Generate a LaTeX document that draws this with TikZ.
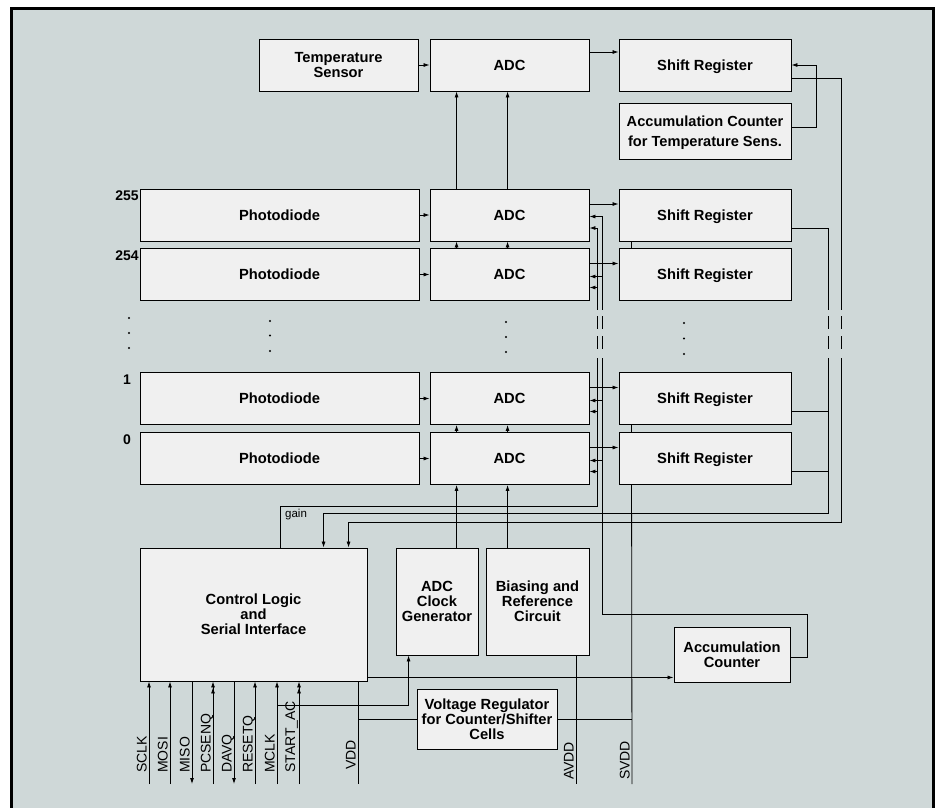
\documentclass[tikz,border=0pt]{standalone}
\usepackage{fontspec}
\setmainfont{Liberation Sans}
\usetikzlibrary{arrows.meta,calc}
\definecolor{bgc}{HTML}{CFD8D8}
\definecolor{boxc}{HTML}{F0F0F0}
\begin{document}
\begin{tikzpicture}[x=1pt,y=-1pt,
 box/.style={draw, line width=0.9pt, fill=boxc, inner sep=1pt, align=center, text depth=0pt, font=\fontsize{14.7}{15}\selectfont\bfseries},
 wire/.style={line width=0.8pt},
 arr/.style={wire, -{Latex[length=6pt,width=4pt]}},
 arrtwo/.style={wire, -{Latex[length=6pt,width=4pt]Latex[length=6pt,width=4pt]}},
 pinlbl/.style={rotate=90, anchor=base west, inner sep=0pt, font=\fontsize{14}{14}\selectfont},
 rownum/.style={anchor=base, inner sep=0pt, font=\fontsize{14}{14}\selectfont\bfseries}
]
\useasboundingbox (0,0) rectangle (937,807);
\clip (0,0) rectangle (937,807);
\fill[white] (0,0) rectangle (937,807);
\draw[line width=3pt, fill=bgc] (11,8) rectangle (933,830);

% top row
\node[box, minimum width=159, minimum height=52] (tsens) at (338.5,65) {Temperature\\Sensor};
\node[box, minimum width=159, minimum height=52] (adcT) at (509.5,65) {ADC};
\node[box, minimum width=172, minimum height=52] (srT) at (705,65) {Shift Register};
\node[box, minimum width=172, minimum height=56, font=\fontsize{14.6}{20}\selectfont\bfseries] (act) at (705,131) {Accumulation Counter\\for Temperature Sens.};

% pixel rows
\foreach \n/\yc in {255/215, 254/274.5, 1/398.5, 0/458.5} {
  \node[box, minimum width=279, minimum height=52] (pd\n) at (279.5,\yc) {Photodiode};
  \node[box, minimum width=159, minimum height=52] (adc\n) at (509.5,\yc) {ADC};
  \node[box, minimum width=172, minimum height=52] (sr\n) at (705,\yc) {Shift Register};
  \node[rownum] (num\n) at (127,\yc-14.5) {\n};
  \draw[arr] (pd\n.east) -- (adc\n.west);
  \draw[arr] ($(adc\n.east)+(0,-11)$) -- ($(sr\n.west)+(0,-11)$);
}

% bottom blocks
\node[box, minimum width=227, minimum height=133] (cl) at (253.5,614.5) {Control Logic\\and\\Serial Interface};
\node[box, minimum width=82, minimum height=107] (cg) at (437,601.5) {ADC\\Clock\\Generator};
\node[box, minimum width=103, minimum height=107] (br) at (537.5,601.5) {Biasing and\\Reference\\Circuit};
\node[box, minimum width=140, minimum height=60] (vr) at (487,719) {Voltage Regulator\\for Counter/Shifter\\Cells};
\node[box, minimum width=116, minimum height=55] (ac) at (732,654.5) {Accumulation\\Counter};

% top connections
\draw[arr] (tsens.east) -- (adcT.west);
\draw[arr] ($(adcT.east)+(0,-13)$) -- ($(srT.west)+(0,-13)$);
\draw[arr] ($(act.east)+(0,-4)$) -- ++(25,0) |- (srT.east);

% ADC chain
\foreach \dx in {27,78} {
  \draw[arr] ($(adc255.north west)+(\dx,0)$) -- ($(adcT.south west)+(\dx,0)$);
  \draw[arr] ($(adc254.north west)+(\dx,0)$) -- ($(adc255.south west)+(\dx,0)$);
  \draw[arr] ($(adc0.north west)+(\dx,0)$) -- ($(adc1.south west)+(\dx,0)$);
}
\draw[arr] ($(cg.north west)+(61,0)$) -- ($(adc0.south west)+(27,0)$);
\draw[arr] ($(br.north west)+(22,0)$) -- ($(adc0.south west)+(78,0)$);

% supply pins
\coordinate (svdd) at (632,784);
\coordinate (vdd) at (358,784);
\coordinate (avdd) at (576,784);
\draw[wire] ($(sr255.south west)+(13,0)$) -- ($(sr254.north west)+(13,0)$);
\draw[wire] ($(sr1.south west)+(13,0)$) -- ($(sr0.north west)+(13,0)$);
\draw[wire] ($(sr0.south west)+(13,0)$) -- (svdd);
\draw[wire] (cl.south -| vdd) -- (vdd);
\draw[wire] (br.south -| avdd) -- (avdd);
\draw[wire] (vr.east) -- (vr.east -| svdd);
\draw[wire] (vr.west) -- (vr.west -| vdd);

% shift register outputs to control logic
\draw[arr] ($(sr255.east)+(0,13)$) -- ++(37,0) |- ($(cl.north west)+(184,-34)$) -- ($(cl.north west)+(184,0)$);
\draw[wire] ($(sr1.east)+(0,13)$) -- ++(37,0);
\draw[wire] ($(sr0.east)+(0,13)$) -- ++(37,0);
\draw[arr] ($(srT.east)+(0,13)$) -- ++(50,0) |- ($(cl.north west)+(209,-25)$) -- ($(cl.north west)+(209,0)$);

% gain
\coordinate (g) at (597,506);
\draw[arr] ($(cl.north west)+(141,0)$) |- (g) |- ($(adc255.east)+(0,13)$);
\foreach \n in {254,1,0} \draw[arr] ($(adc\n.east)+(8,13)$) -- ($(adc\n.east)+(0,13)$);
\node[anchor=base west, inner sep=0pt, font=\fontsize{11.5}{11.5}\selectfont] (gainlbl) at (285,517) {gain};

% accumulation counter feedback
\coordinate (f) at (602,614);
\draw[arr] ($(ac.east)+(0,2.5)$) -- ++(17,0) |- (f) |- ($(adc255.east)+(0,1.5)$);
\foreach \n in {254,1,0} \draw[arr] ($(adc\n.east)+(13,2)$) -- ($(adc\n.east)+(0,2)$);

% control logic to accumulation counter
\draw[arr] ($(cl.south east)+(0,-4)$) -- ($(ac.south west)+(0,-5)$);

% breaks
\fill[bgc] (593,310) rectangle (606,358);
\fill[bgc] (824,310) rectangle (845,358);
\foreach \x in {597,602,828,841} {
  \draw[wire] (\x,316) -- (\x,329);
  \draw[wire] (\x,336) -- (\x,349);
}

% dots
\foreach \x/\y in {129/318,129/333,129/348,270/321,270/335.5,270/351,506/322,506/337,506/352,684/323,684/338.5,684/354}
  \fill (\x,\y) circle (1.2);

% pins
\foreach \nm/\x/\lab in {sclk/149/SCLK, mosi/170/MOSI, miso/192/MISO, pcsenq/213/PCSENQ, davq/234/DAVQ, resetq/255/RESETQ, mclk/277/MCLK} {
  \coordinate (p\nm) at (\x,784);
  \node[pinlbl] (l\nm) at (\x-2.5,773) {\lab};
}
\coordinate (pstartac) at (299,784);
\node[pinlbl] (lstartac) at (295,773) {START\_AC};
\draw[arr] (psclk) -- (cl.south -| psclk);
\draw[arr] (pmosi) -- (cl.south -| pmosi);
\draw[arr] (cl.south -| pmiso) -- (pmiso);
\draw[arrtwo] (ppcsenq) -- (cl.south -| ppcsenq);
\draw[arr] (cl.south -| pdavq) -- (pdavq);
\draw[arr] (presetq) -- (cl.south -| presetq);
\draw[arr] (pmclk) -- (cl.south -| pmclk);
\draw[arrtwo] (pstartac) -- (cl.south -| pstartac);
\draw[arr] ($(pmclk)+(0,-79)$) -| ($(cg.south west)+(13,0)$);

\node[pinlbl] (lvdd) at (355.5,770) {VDD};
\node[pinlbl] (lavdd) at (573.5,780) {AVDD};
\node[pinlbl] (lsvdd) at (629.5,780) {SVDD};
\end{tikzpicture}
\end{document}
